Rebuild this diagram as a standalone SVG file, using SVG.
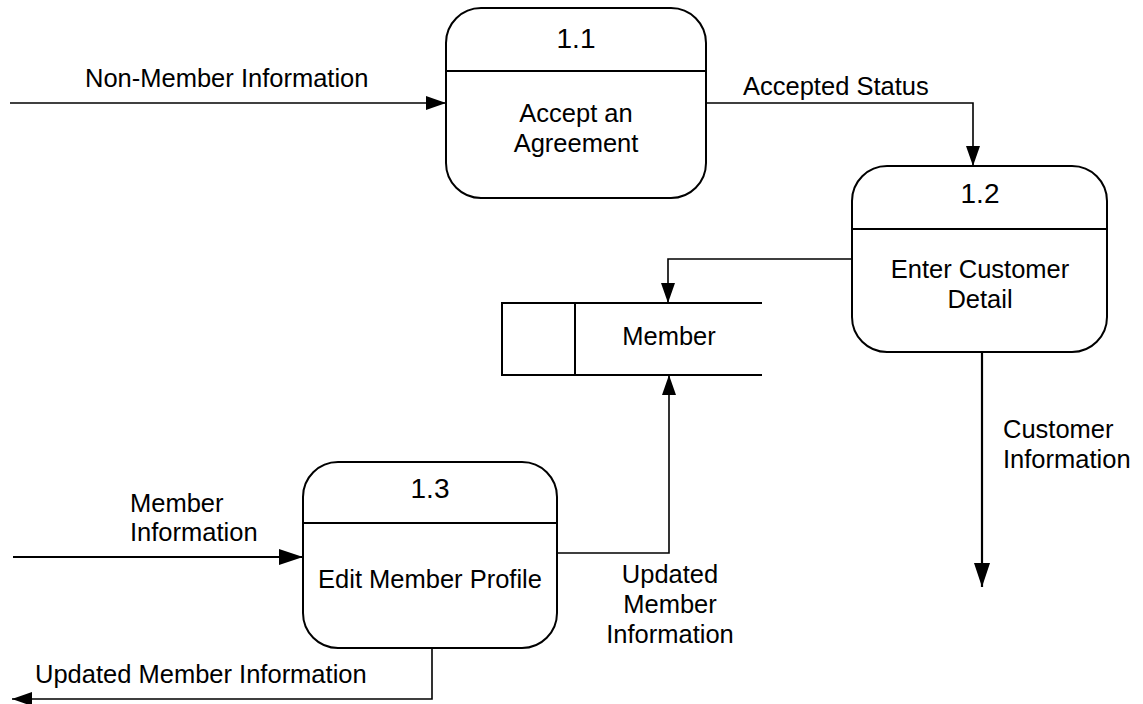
<svg xmlns="http://www.w3.org/2000/svg" width="1143" height="704" viewBox="0 0 1143 704">
<style>
  text { font-family: "Liberation Sans", Arial, sans-serif; fill: #000; }
  .lbl { font-size: 25.5px; }
  .num { font-size: 28px; text-anchor: middle; }
  .mid { text-anchor: middle; }
  .box { fill: #fff; stroke: #000; stroke-width: 2; }
  .div { stroke: #000; stroke-width: 2; }
  .flow { fill: none; stroke: #000; stroke-width: 1.6; }
  .flowb { fill: none; stroke: #000; stroke-width: 2.2; }
</style>
<defs>
  <marker id="ah" markerUnits="userSpaceOnUse" markerWidth="20" markerHeight="14" refX="20" refY="7" orient="auto">
    <path d="M0,0 L20,7 L0,14 Z" fill="#000"/>
  </marker>
  <marker id="ahb" markerUnits="userSpaceOnUse" markerWidth="24" markerHeight="16" refX="24" refY="8" orient="auto">
    <path d="M0,0 L24,8 L0,16 Z" fill="#000"/>
  </marker>
</defs>
<rect width="1143" height="704" fill="#fff"/>

<g id="connectors">
  <path class="flow" d="M10,103 H446" marker-end="url(#ah)"/>
  <path class="flow" d="M706,103 H973 V166" marker-end="url(#ah)"/>
  <path class="flow" d="M852,259 H668 V303" marker-end="url(#ah)"/>
  <path class="flowb" d="M982,352 V587" marker-end="url(#ahb)"/>
  <path class="flowb" d="M13,557 H303" marker-end="url(#ahb)"/>
  <path class="flow" d="M557,553 H669 V375" marker-end="url(#ah)"/>
  <path class="flow" d="M432,648 V699 H12" marker-end="url(#ah)"/>
</g>

<g id="labels">
  <text class="lbl" x="85" y="87">Non-Member Information</text>
  <text class="lbl" x="743" y="95">Accepted Status</text>
  <text class="lbl" x="1003" y="438">Customer</text>
  <text class="lbl" x="1003" y="468">Information</text>
  <text class="lbl" x="130" y="512">Member</text>
  <text class="lbl" x="130" y="541">Information</text>
  <text class="lbl mid" x="670" y="583">Updated</text>
  <text class="lbl mid" x="670" y="613">Member</text>
  <text class="lbl mid" x="670" y="643">Information</text>
  <text class="lbl" x="35" y="683">Updated Member Information</text>
</g>

<g id="p1_1">
  <rect class="box" x="446" y="8" width="260" height="190" rx="35" ry="35"/>
  <line class="div" x1="446" y1="71" x2="706" y2="71"/>
  <text class="num" x="576" y="48">1.1</text>
  <text class="lbl mid" x="576" y="122">Accept an</text>
  <text class="lbl mid" x="576" y="152">Agreement</text>
</g>

<g id="p1_2">
  <rect class="box" x="852" y="166" width="255" height="186" rx="35" ry="35"/>
  <line class="div" x1="852" y1="229" x2="1107" y2="229"/>
  <text class="num" x="980" y="203">1.2</text>
  <text class="lbl mid" x="980" y="278">Enter Customer</text>
  <text class="lbl mid" x="980" y="308">Detail</text>
</g>

<g id="p1_3">
  <rect class="box" x="303" y="462" width="254" height="186" rx="35" ry="35"/>
  <line class="div" x1="303" y1="523" x2="557" y2="523"/>
  <text class="num" x="430" y="498">1.3</text>
  <text class="lbl mid" x="430" y="588">Edit Member Profile</text>
</g>

<g id="ds_member">
  <path class="div" fill="none" d="M762,303 H502 V375 H762"/>
  <line class="div" x1="575" y1="303" x2="575" y2="375"/>
  <text class="lbl mid" x="669" y="345">Member</text>
</g>
</svg>
